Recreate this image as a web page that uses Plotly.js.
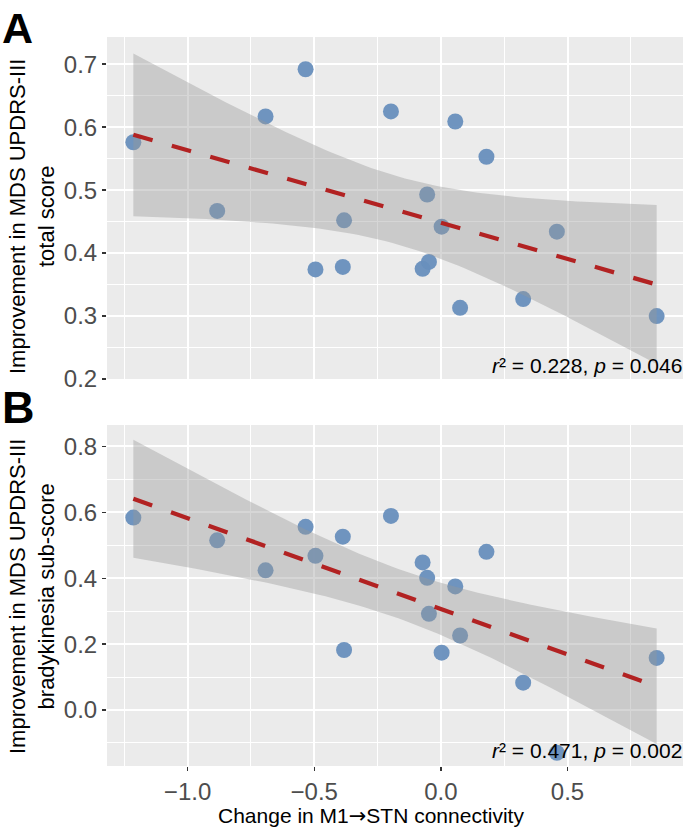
<!DOCTYPE html>
<html>
<head>
<meta charset="utf-8">
<script src="https://cdn.plot.ly/plotly-3.0.1.min.js"></script>
<style>
  html, body { margin: 0; padding: 0; background: #ffffff; }
  #chart { width: 685px; height: 830px; }
</style>
</head>
<body>
<div id="chart"></div>
<script>
// Per-patient change in M1→STN effective connectivity
const connectivityChange = [-1.214, -0.883, -0.692, -0.534, -0.495, -0.387, -0.382, -0.197, -0.072,
                            -0.054, -0.047, 0.003, 0.057, 0.076, 0.180, 0.325, 0.458, 0.852];
// Relative improvement in MDS UPDRS-III total score
const totalScoreImprovement = [0.576, 0.467, 0.617, 0.692, 0.374, 0.378, 0.452, 0.625, 0.375,
                               0.493, 0.386, 0.442, 0.609, 0.313, 0.553, 0.327, 0.434, 0.300];
// Relative improvement in MDS UPDRS-III bradykinesia sub-score
const bradykinesiaImprovement = [0.584, 0.515, 0.424, 0.556, 0.468, 0.526, 0.182, 0.589, 0.448,
                                 0.401, 0.292, 0.174, 0.375, 0.226, 0.480, 0.083, -0.130, 0.158];

const panelLetters = ['A', 'B'];
const statsLabels = ['<i>r</i>² = 0.228, <i>p</i> = 0.046', '<i>r</i>² = 0.471, <i>p</i> = 0.002'];
const yTitles = ['Improvement in MDS UPDRS-III<br>total score',
                 'Improvement in MDS UPDRS-III<br>bradykinesia sub-score'];
const xTitle = 'Change in M1<span style="font-family:DejaVu Sans">→</span>STN connectivity';

const FONT = 'Liberation Sans, Arial, Helvetica, sans-serif';
const T_975_DF16 = 2.119905; // two-sided 95% t quantile, n - 2 = 16 df

// Ordinary least squares fit with a 95% confidence band for the mean
function linearFit(x, y, nGrid) {
  const n = x.length;
  const mx = x.reduce((a, b) => a + b, 0) / n;
  const my = y.reduce((a, b) => a + b, 0) / n;
  let sxx = 0, sxy = 0;
  for (let i = 0; i < n; i++) {
    sxx += (x[i] - mx) * (x[i] - mx);
    sxy += (x[i] - mx) * (y[i] - my);
  }
  const slope = sxy / sxx;
  const icpt = my - slope * mx;
  let sse = 0;
  for (let i = 0; i < n; i++) {
    const r = y[i] - (icpt + slope * x[i]);
    sse += r * r;
  }
  const s = Math.sqrt(sse / (n - 2));
  const xmin = Math.min(...x), xmax = Math.max(...x);
  const gx = [], fit = [], lo = [], hi = [];
  for (let k = 0; k < nGrid; k++) {
    const xv = xmin + (xmax - xmin) * k / (nGrid - 1);
    const yv = icpt + slope * xv;
    const se = s * Math.sqrt(1 / n + (xv - mx) * (xv - mx) / sxx);
    gx.push(xv); fit.push(yv);
    lo.push(yv - T_975_DF16 * se);
    hi.push(yv + T_975_DF16 * se);
  }
  return { gx, fit, lo, hi };
}

function panelTraces(x, y, xa, ya) {
  const f = linearFit(x, y, 80);
  return [
    {
      type: 'scatter', mode: 'markers', x: x, y: y, xaxis: xa, yaxis: ya,
      marker: { size: 16, color: 'rgb(104,143,189)', opacity: 0.95, line: { width: 0 } },
      hoverinfo: 'skip', showlegend: false
    },
    {
      type: 'scatter', mode: 'lines', xaxis: xa, yaxis: ya,
      x: f.gx.concat(f.gx.slice().reverse()),
      y: f.hi.concat(f.lo.slice().reverse()),
      fill: 'toself', fillcolor: 'rgba(153,153,153,0.4)',
      line: { width: 0, color: 'rgba(0,0,0,0)' },
      hoverinfo: 'skip', showlegend: false
    },
    {
      type: 'scatter', mode: 'lines', x: f.gx, y: f.fit, xaxis: xa, yaxis: ya,
      line: { color: '#B22222', width: 4.3, dash: '20px,20px' },
      hoverinfo: 'skip', showlegend: false
    }
  ];
}

const data = panelTraces(connectivityChange, totalScoreImprovement, 'x', 'y')
  .concat(panelTraces(connectivityChange, bradykinesiaImprovement, 'x2', 'y2'));

const W = 685, H = 830;
const M = { l: 107, r: 2, t: 37, b: 64 };
const PW = W - M.l - M.r, PH = H - M.t - M.b;
const px2x = px => (px - M.l) / PW;
const py2y = py => (H - M.b - py) / PH;

const xRange = [-1.318, 0.956];

const gridCommon = {
  showgrid: true, gridcolor: '#ffffff', gridwidth: 2,
  zeroline: false, showline: false,
  tickfont: { family: FONT, size: 24, color: '#4D4D4D' },
  ticks: 'outside', ticklen: 4, tickwidth: 1.4, tickcolor: '#333333'
};

const layout = {
  width: W, height: H,
  margin: M,
  paper_bgcolor: '#ffffff',
  plot_bgcolor: '#EBEBEB',
  showlegend: false,
  font: { family: FONT },
  xaxis: Object.assign({}, gridCommon, {
    domain: [0, 1], anchor: 'y', range: xRange,
    tick0: 0, dtick: 0.5, showticklabels: false, ticks: '',
    minor: { tick0: 0.25, dtick: 0.5, showgrid: true, gridcolor: '#ffffff', gridwidth: 1 }
  }),
  yaxis: Object.assign({}, gridCommon, {
    domain: [py2y(379), 1], anchor: 'x', range: [0.2, 0.7432],
    tick0: 0.2, dtick: 0.1, tickformat: '.1f',
    minor: { tick0: 0.25, dtick: 0.1, showgrid: true, gridcolor: '#ffffff', gridwidth: 1 }
  }),
  xaxis2: Object.assign({}, gridCommon, {
    domain: [0, 1], anchor: 'y2', range: xRange,
    tick0: 0, dtick: 0.5, tickformat: '.1f',
    minor: { tick0: 0.25, dtick: 0.5, showgrid: true, gridcolor: '#ffffff', gridwidth: 1 }
  }),
  yaxis2: Object.assign({}, gridCommon, {
    domain: [0, py2y(425)], anchor: 'x2', range: [-0.170, 0.865],
    tick0: 0, dtick: 0.2, tickformat: '.1f',
    minor: { tick0: 0.1, dtick: 0.2, showgrid: true, gridcolor: '#ffffff', gridwidth: 1 }
  }),
  annotations: [
    // panel letters
    { xref: 'paper', yref: 'paper', x: px2x(0), y: py2y(28), xanchor: 'left', yanchor: 'middle',
      text: '<b>' + panelLetters[0] + '</b>', showarrow: false,
      font: { family: FONT, size: 43, color: '#000000' } },
    { xref: 'paper', yref: 'paper', x: px2x(0), y: py2y(408), xanchor: 'left', yanchor: 'middle',
      text: '<b>' + panelLetters[1] + '</b>', showarrow: false,
      font: { family: FONT, size: 45, color: '#000000' } },
    // y-axis titles
    { xref: 'paper', yref: 'paper', x: px2x(32), y: py2y(217), xanchor: 'center', yanchor: 'middle',
      text: yTitles[0], textangle: -90, showarrow: false,
      font: { family: FONT, size: 22, color: '#000000' } },
    { xref: 'paper', yref: 'paper', x: px2x(32), y: py2y(597), xanchor: 'center', yanchor: 'middle',
      text: yTitles[1], textangle: -90, showarrow: false,
      font: { family: FONT, size: 22, color: '#000000' } },
    // x-axis title
    { xref: 'paper', yref: 'paper', x: px2x(371), y: py2y(816), xanchor: 'center', yanchor: 'middle',
      text: xTitle, showarrow: false,
      font: { family: FONT, size: 21, color: '#000000' } },
    // regression statistics
    { xref: 'paper', yref: 'paper', x: px2x(684), y: py2y(365), xanchor: 'right', yanchor: 'middle',
      text: statsLabels[0], showarrow: false,
      font: { family: FONT, size: 21, color: '#000000' } },
    { xref: 'paper', yref: 'paper', x: px2x(684), y: py2y(750), xanchor: 'right', yanchor: 'middle',
      text: statsLabels[1], showarrow: false,
      font: { family: FONT, size: 21, color: '#000000' } }
  ]
};

Plotly.newPlot('chart', data, layout, { staticPlot: true, displayModeBar: false });
</script>
</body>
</html>
